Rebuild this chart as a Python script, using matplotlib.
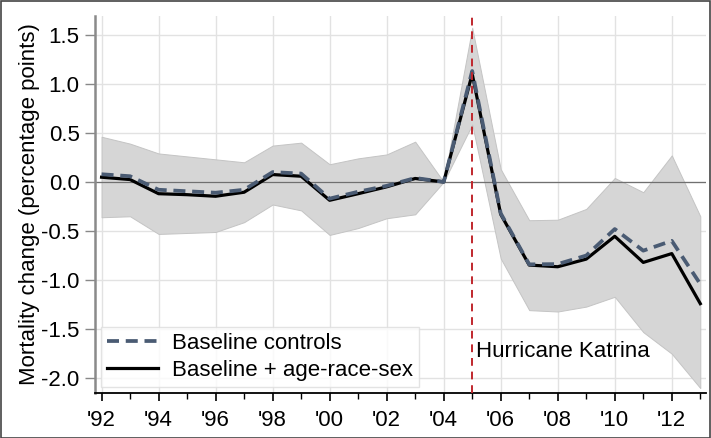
import matplotlib
matplotlib.use("Agg")
import matplotlib.pyplot as plt
from matplotlib.ticker import MultipleLocator

plt.rcParams['font.family'] = ['Liberation Sans', 'DejaVu Sans']

years = list(range(1992, 2014))
baseline = [0.078, 0.058, -0.08, -0.095, -0.11, -0.08, 0.10, 0.085, -0.17, -0.10,
            -0.04, 0.04, 0.0, 1.13, -0.32, -0.84, -0.837, -0.75, -0.48, -0.70,
            -0.60, -1.04]
age_race_sex = [0.048, 0.024, -0.12, -0.13, -0.146, -0.105, 0.075, 0.058, -0.187, -0.12,
                -0.05, 0.035, 0.0, 1.10, -0.33, -0.847, -0.864, -0.786, -0.554, -0.82,
                -0.73, -1.24]
ci_upper = [0.46, 0.39, 0.29, 0.26, 0.23, 0.20, 0.37, 0.40, 0.18, 0.24,
            0.28, 0.41, 0.0, 1.57, 0.13, -0.39, -0.385, -0.275, 0.04, -0.105,
            0.27, -0.35]
ci_lower = [-0.36, -0.35, -0.53, -0.52, -0.51, -0.41, -0.23, -0.29, -0.54, -0.47,
            -0.37, -0.33, 0.0, 0.585, -0.78, -1.306, -1.32, -1.27, -1.17, -1.53,
            -1.75, -2.10]
event_year = 2005
event_label = "Hurricane Katrina"
x_ticks = list(range(1992, 2014, 2))
x_ticklabels = ["'%02d" % (y % 100) for y in x_ticks]
y_ticks = [1.5, 1.0, 0.5, 0.0, -0.5, -1.0, -1.5, -2.0]

FS = 16

fig = plt.figure(figsize=(7.11, 4.38), dpi=100)
ax = fig.add_axes([95 / 711, 1 - 393 / 438, (706 - 95) / 711, (393 - 16) / 438])

ax.fill_between(years, ci_lower, ci_upper, facecolor='#d6d6d6', edgecolor='#c4c4c4',
                linewidth=0.7, zorder=1)
ax.axhline(0, color='#707070', linewidth=0.9, zorder=2)
ax.plot(years, age_race_sex, color='black', linewidth=2.3, zorder=3,
        label='Baseline + age-race-sex')
ax.plot(years, baseline, color='#4a5b73', linewidth=2.7, linestyle=(0, (3.2, 1.8)),
        zorder=4, label='Baseline controls')
ax.axvline(event_year, color='#c0272d', linewidth=1.4, linestyle=(0, (4, 3)), zorder=5)
ax.text(event_year + 0.15, -1.73, event_label, fontsize=FS, color='black',
        ha='left', va='center', zorder=6)

ax.set_xlim(1991.77, 2013.2)
ax.set_ylim(-2.15, 1.69)
ax.set_xticks(x_ticks)
ax.set_xticklabels(x_ticklabels)
ax.xaxis.set_minor_locator(MultipleLocator(1))
ax.set_yticks(y_ticks)
ax.set_yticklabels(["%.1f" % v for v in y_ticks])
ax.grid(True, which='major', color='#e2e2e2', linewidth=1.0, zorder=0)
ax.set_axisbelow(True)

ax.tick_params(axis='both', labelsize=FS)
ax.tick_params(axis='x', which='major', length=6, width=1.2, color='black', pad=6)
ax.tick_params(axis='x', which='minor', length=4, width=1.0, color='black')
ax.tick_params(axis='y', length=7, width=1.0, color='#888888', pad=4)

for side in ['top', 'right']:
    ax.spines[side].set_visible(False)
ax.spines['left'].set_color('#8a8a8a')
ax.spines['left'].set_linewidth(1.8)
ax.spines['bottom'].set_color('black')
ax.spines['bottom'].set_linewidth(1.3)

ax.set_ylabel('Mortality change (percentage points)', fontsize=FS, labelpad=1)

handles, labels = ax.get_legend_handles_labels()
leg = ax.legend(handles[::-1], labels[::-1], loc='lower left', fontsize=FS,
                frameon=True, fancybox=False, edgecolor='#dddddd',
                handlelength=2.3, handletextpad=0.6, borderaxespad=0.25,
                labelspacing=0.25, borderpad=0.3)
leg.get_frame().set_linewidth(1.0)

fig.patches.append(plt.Rectangle((0.001, 0.001), 0.997, 0.997, transform=fig.transFigure,
                                 fill=False, edgecolor='#444444', linewidth=1.2))

fig.savefig('out.png', dpi=100)
